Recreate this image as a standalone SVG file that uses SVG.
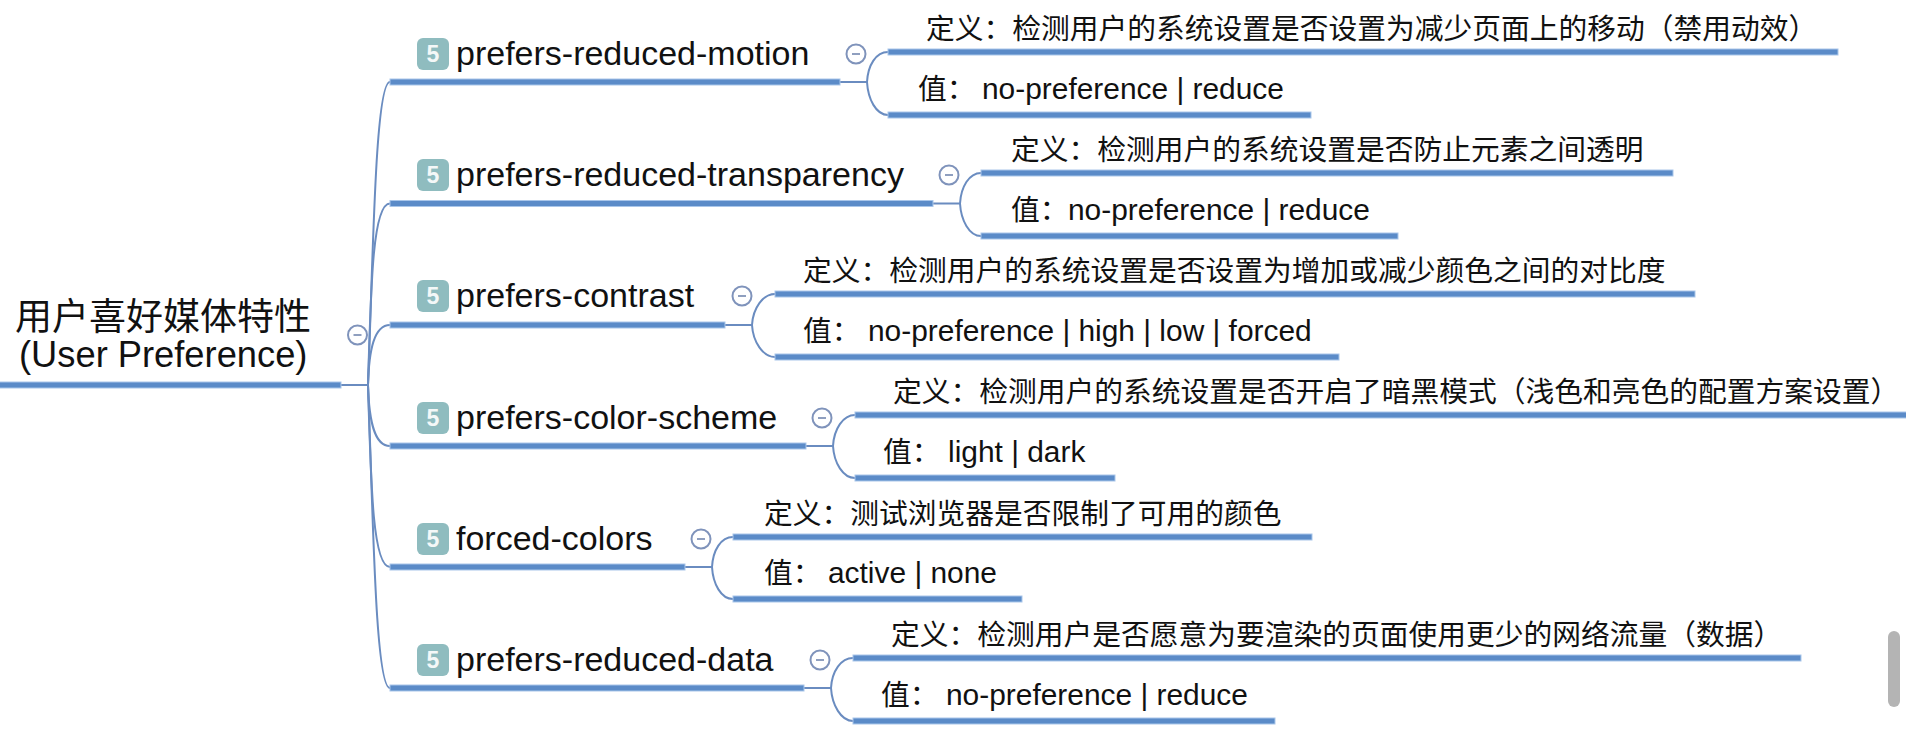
<svg xmlns="http://www.w3.org/2000/svg" width="1906" height="740" viewBox="0 0 1906 740">
<style>
text{fill:#111;font-family:"Liberation Sans","Noto Sans CJK SC",sans-serif}
.root{font-size:36.3px}
.rootc{font-size:37px}
.l1{font-size:34px}
.l2{font-size:28.75px}
.cjk{font-family:"Noto Sans CJK SC","Liberation Sans",sans-serif}
.lat{font-size:29.9px}
.bar{fill:#5b8bc8;stroke:#a9c6ea;stroke-width:1}
.badge{fill:#8fbcbf}
.num{fill:#f4f8f8;font-size:23px;font-weight:bold;text-anchor:middle}
.tog{fill:#fff;stroke:#7f93bb;stroke-width:2}
.dash{stroke:#8f9fbf;stroke-width:2}
.conn{fill:none;stroke:#6a8cc0;stroke-width:2}
</style>
<defs>
<g id="b"><rect class="badge" x="417" y="0" width="32" height="32" rx="6"/><text class="num" x="433" y="24">5</text></g>
<g id="t"><circle class="tog" r="9.5"/><line class="dash" x1="-4" x2="4"/></g>
</defs>
<rect width="1906" height="740" fill="#fff"/>
<g id="connectors">
<path class="conn" d="M341 385H368"/>
<path class="conn" d="M368 385C373 260 375 82 390 82"/>
<path class="conn" d="M368 385C371 280 373 203.5 390 203.5"/>
<path class="conn" d="M368 385C369 350 374 325 390 325"/>
<path class="conn" d="M368 385C369 420 374 446 390 446"/>
<path class="conn" d="M368 385C371 490 373 567 390 567"/>
<path class="conn" d="M368 385C373 510 375 688 390 688"/>
<path class="conn" d="M840 82H867M867 82C868 65 876 52 888 52M867 82C868 99 876 115 888 115"/>
<path class="conn" d="M933 203.5H960M960 203.5C961 187 969 173 981 173M960 203.5C961 220 969 236 981 236"/>
<path class="conn" d="M725 325H752M752 325C753 308 763 294 775 294M752 325C753 342 763 357 775 357"/>
<path class="conn" d="M806 446H833M833 446C834 429 843 415 855 415M833 446C834 463 843 478 855 478"/>
<path class="conn" d="M685 567H712M712 567C713 550 721 537 733 537M712 567C713 584 721 599 733 599"/>
<path class="conn" d="M804 688H831M831 688C832 671 841 658 853 658M831 688C832 705 841 721 853 721"/>
</g>
<g id="root">
<rect class="bar" x="-2" y="382" width="343" height="6"/>
<text class="rootc cjk" x="15" y="330">用户喜好媒体特性</text>
<text class="root" x="19" y="367">(User Preference)</text>
<use href="#t" x="357.500" y="335"/>
</g>
<g id="n1">
<rect class="bar" x="390" y="79" width="450" height="6"/><use href="#b" y="38"/>
<text class="l1" x="456" y="65">prefers-reduced-motion</text><use href="#t" x="856" y="54"/>
</g>
<g id="n1a"><rect class="bar" x="888" y="49" width="950" height="6"/>
<text class="l2 cjk" x="926" y="39">定义：检测用户的系统设置是否设置为减少页面上的移动（禁用动效）</text></g>
<g id="n1b"><rect class="bar" x="888" y="112" width="423" height="6"/>
<text class="l2 cjk" x="918" y="99">值：</text><text class="lat" x="982" y="99">no-preference | reduce</text></g>
<g id="n2">
<rect class="bar" x="390" y="200.500" width="543" height="6"/><use href="#b" y="159"/>
<text class="l1" x="456" y="186">prefers-reduced-transparency</text><use href="#t" x="949" y="175"/>
</g>
<g id="n2a"><rect class="bar" x="981" y="170" width="692" height="6"/>
<text class="l2 cjk" x="1011" y="160">定义：检测用户的系统设置是否防止元素之间透明</text></g>
<g id="n2b"><rect class="bar" x="981" y="233" width="417" height="6"/>
<text class="l2 cjk" x="1011" y="220">值：</text><text class="lat" x="1068" y="220">no-preference | reduce</text></g>
<g id="n3">
<rect class="bar" x="390" y="322" width="335" height="6"/><use href="#b" y="280"/>
<text class="l1" x="456" y="307">prefers-contrast</text><use href="#t" x="742" y="296"/>
</g>
<g id="n3a"><rect class="bar" x="775" y="291" width="920" height="6"/>
<text class="l2 cjk" x="803" y="281">定义：检测用户的系统设置是否设置为增加或减少颜色之间的对比度</text></g>
<g id="n3b"><rect class="bar" x="775" y="354" width="564" height="6"/>
<text class="l2 cjk" x="803" y="341">值：</text><text class="lat" x="868" y="341">no-preference | high | low | forced</text></g>
<g id="n4">
<rect class="bar" x="390" y="443" width="416" height="6"/><use href="#b" y="402"/>
<text class="l1" x="456" y="429">prefers-color-scheme</text><use href="#t" x="822" y="418"/>
</g>
<g id="n4a"><rect class="bar" x="855" y="412" width="1053" height="6"/>
<text class="l2 cjk" x="893" y="402">定义：检测用户的系统设置是否开启了暗黑模式（浅色和亮色的配置方案设置）</text></g>
<g id="n4b"><rect class="bar" x="855" y="475" width="260" height="6"/>
<text class="l2 cjk" x="883" y="462">值：</text><text class="lat" x="948" y="462">light | dark</text></g>
<g id="n5">
<rect class="bar" x="390" y="564" width="295" height="6"/><use href="#b" y="523"/>
<text class="l1" x="456" y="550">forced-colors</text><use href="#t" x="701" y="539"/>
</g>
<g id="n5a"><rect class="bar" x="733" y="534" width="579" height="6"/>
<text class="l2 cjk" x="764" y="524">定义：测试浏览器是否限制了可用的颜色</text></g>
<g id="n5b"><rect class="bar" x="733" y="596" width="289" height="6"/>
<text class="l2 cjk" x="764" y="583">值：</text><text class="lat" x="828" y="583">active | none</text></g>
<g id="n6">
<rect class="bar" x="390" y="685" width="414" height="6"/><use href="#b" y="644"/>
<text class="l1" x="456" y="671">prefers-reduced-data</text><use href="#t" x="820" y="660"/>
</g>
<g id="n6a"><rect class="bar" x="853" y="655" width="948" height="6"/>
<text class="l2 cjk" x="891" y="645">定义：检测用户是否愿意为要渲染的页面使用更少的网络流量（数据）</text></g>
<g id="n6b"><rect class="bar" x="853" y="718" width="422" height="6"/>
<text class="l2 cjk" x="881" y="705">值：</text><text class="lat" x="946" y="705">no-preference | reduce</text></g>
<rect x="1888" y="631" width="12" height="76" rx="6" fill="#b4b4b4"/>
</svg>
